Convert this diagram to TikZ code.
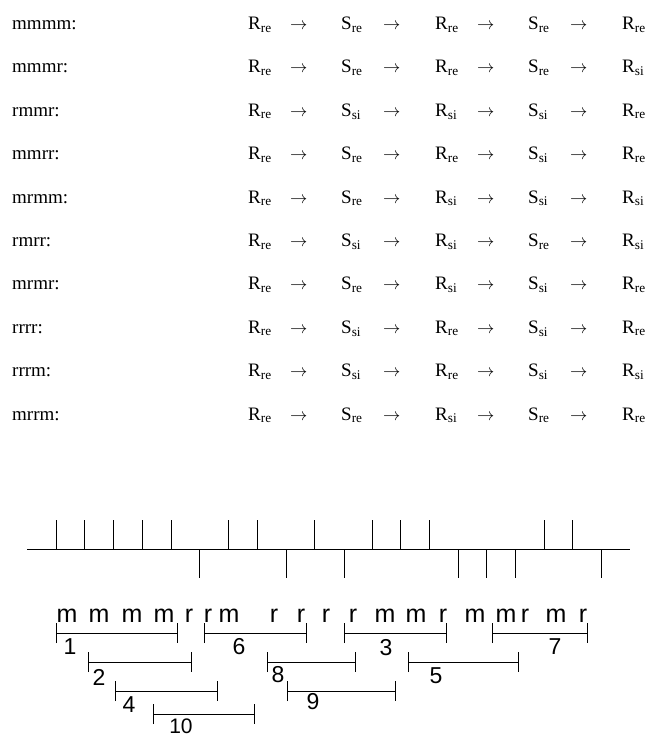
\documentclass[tikz,border=0pt]{standalone}
\usepackage{fontspec}
\setmainfont{Liberation Serif}
\newfontfamily\arialf{Liberation Sans}
\usetikzlibrary{arrows.meta}
\begin{document}
\begin{tikzpicture}[x=1pt,y=-1pt,
  txt/.style={anchor=base west, inner sep=0pt, font=\fontsize{19}{19}\selectfont},
  seq/.style={anchor=base, inner sep=0pt, font=\arialf\fontsize{25}{25}\selectfont},
  num/.style={inner sep=0pt, font=\arialf\fontsize{23}{23}\selectfont},
  axisline/.style={line width=1pt},
  tickline/.style={line width=1pt},
  brk/.style={line width=1pt, {Bar[width=20pt]}-{Bar[width=20pt]}}]
\useasboundingbox (0,0) rectangle (647,740);
% table of sequences
\foreach \lab/\ca/\cb/\cc/\cd/\ce [count=\i] in {
  mmmm/re/re/re/re/re, mmmr/re/re/re/re/si, rmmr/re/si/si/si/re,
  mmrr/re/re/re/si/re, mrmm/re/re/si/si/si, rmrr/re/si/si/re/si,
  mrmr/re/re/si/si/re, rrrr/re/si/re/si/re, rrrm/re/si/re/si/si,
  mrrm/re/re/si/re/re}{
  \pgfmathsetmacro\yy{29.5+43.4*(\i-1)}
  \node[txt] (lab\i) at (12,\yy) {\lab:};
  \node[txt] (p\i a) at (248,\yy) {R\textsubscript{\ca}};
  \node[txt] (q\i a) at (290,\yy) {$\rightarrow$};
  \node[txt] (p\i b) at (341,\yy) {S\textsubscript{\cb}};
  \node[txt] (q\i b) at (383,\yy) {$\rightarrow$};
  \node[txt] (p\i c) at (435,\yy) {R\textsubscript{\cc}};
  \node[txt] (q\i c) at (477,\yy) {$\rightarrow$};
  \node[txt] (p\i d) at (528,\yy) {S\textsubscript{\cd}};
  \node[txt] (q\i d) at (570,\yy) {$\rightarrow$};
  \node[txt] (p\i e) at (622,\yy) {R\textsubscript{\ce}};
}
% tick line
\coordinate (axl) at (27,549);
\coordinate (axr) at (630,549);
\draw[axisline] (axl) -- (axr);
\foreach \x/\d [count=\k] in {56/-1,84/-1,113/-1,142/-1,171/-1,199/1,228/-1,257/-1,
  286/1,314/-1,344/1,372/-1,400/-1,429/-1,458/1,486/1,515/1,544/-1,572/-1,601/1}{
  \coordinate (t\k) at (\x,549);
  \coordinate (te\k) at (\x,549+29*\d);
  \draw[tickline] (t\k) -- (te\k);
}
% letter sequence
\foreach \x/\l [count=\k] in {67/m,99/m,132/m,164/m,189/r,208/r,229/m,274/r,301/r,
  326/r,353/r,385/m,416/m,443/r,475/m,506/m,525/r,556/m,583/r}{
  \node[seq] (s\k) at (\x,622) {\l};
}
% brackets
\foreach \n/\xa/\xb/\yb/\lx/\ly in {1/56/178/633/70/647, 6/204/307/633/239/647,
  3/344/447/633/386/648, 7/492/588/633/555/647, 2/88/192/662/99/677,
  8/267/356/662/278/675, 5/408/519/662/436/676, 4/115/218/691/129/705,
  9/287/396/691/313/702, 10/153/255/714/181/726}{
  \coordinate (bl\n) at (\xa,\yb);
  \coordinate (br\n) at (\xb,\yb);
  \draw[brk] (bl\n) -- (br\n);
  \node[num] (n\n) at (\lx,\ly) {\ifnum\n=10\fontsize{21}{21}\selectfont\fi\n};
}
\end{tikzpicture}
\end{document}
